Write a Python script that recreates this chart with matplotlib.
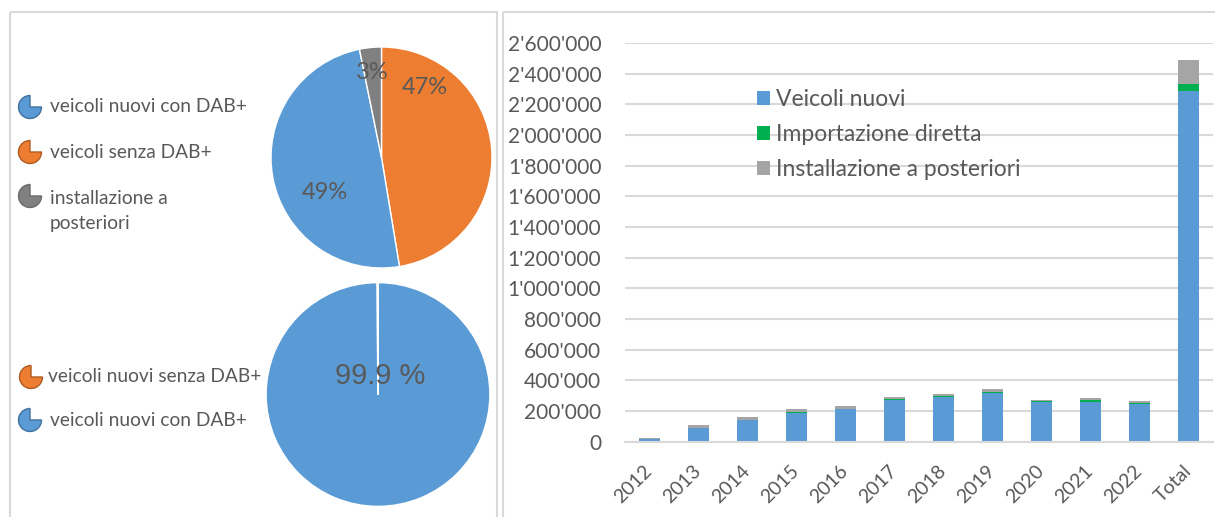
import matplotlib
matplotlib.use('Agg')
import matplotlib.pyplot as plt
import matplotlib.patches as mpatches
import numpy as np

plt.rcParams['font.family'] = ['Lato', 'DejaVu Sans']
TXT = '#595959'
BLUE, ORANGE, GREEN = '#5B9BD5', '#ED7D31', '#00B050'
PIE_GREY, BAR_GREY = '#808080', '#A5A5A5'

# --- data -------------------------------------------------------------
years = ['2012', '2013', '2014', '2015', '2016', '2017', '2018', '2019',
         '2020', '2021', '2022']
nuovi = [15000, 88000, 142000, 189000, 211000, 273000, 291000, 318000,
         258000, 258000, 242000]
importazione = [0, 1000, 1000, 2000, 2000, 4000, 6000, 7000,
                5000, 10000, 10000]
posteriori = [10000, 18000, 17000, 22000, 16000, 12000, 10000, 15000,
              10000, 15000, 10000]
bar_labels = ['Veicoli nuovi', 'Importazione diretta', 'Installazione a posteriori']

pie1_labels = ['veicoli nuovi con DAB+', 'veicoli senza DAB+', 'installazione a\nposteriori']
pie1_values = [49.4, 47.4, 3.2]
pie2_labels = ['veicoli nuovi senza DAB+', 'veicoli nuovi con DAB+']
pie2_values = [0.1, 99.9]

W, H = 1215, 517
fig = plt.figure(figsize=(W / 100, H / 100), dpi=100)

# overlay in pixel coords for panel frames + pie legend icons (y inverted)
ov = fig.add_axes([0, 0, 1, 1])
ov.set_xlim(0, W)
ov.set_ylim(H, 0)
ov.axis('off')
for x0, w in [(10, 487), (503, 730)]:
    ov.add_patch(mpatches.Rectangle((x0, 12), w, 530, fill=False,
                                    edgecolor='#d9d9d9', lw=1.5))

def pie_key(x, y, color, edge, label, tx=50, ty=None):
    # y axis is inverted, so data angles 0..270 leave the top-right quarter open
    ov.add_patch(mpatches.Wedge((x, y), 11.5, 0, 270, facecolor=color,
                                edgecolor=edge, lw=1))
    ov.text(tx, y if ty is None else ty, label, fontsize=13.8, color=TXT,
            va='center', ha='left', linespacing=1.6)

# --- pie 1 ------------------------------------------------------------
ax1 = fig.add_axes([271 / W, (H - 268) / H, 221 / W, 221 / H])
order1 = [1, 0, 2]
cols1 = [BLUE, ORANGE, PIE_GREY]
_, _, at1 = ax1.pie([pie1_values[i] for i in order1], colors=[cols1[i] for i in order1],
                    startangle=90, counterclock=False, autopct='%.0f%%',
                    wedgeprops=dict(edgecolor='white', linewidth=1),
                    textprops=dict(color=TXT, fontsize=17))
for t, pos in zip(at1, [(0.394, 0.629), (-0.511, -0.321), (-0.086, 0.765)]):
    t.set_position(pos)
ax1.set_xlim(-1, 1)
ax1.set_ylim(-1, 1)

pie_key(30, 107, BLUE, '#41719C', pie1_labels[0])
pie_key(30, 152, ORANGE, '#AE5A21', pie1_labels[1])
pie_key(30, 196, PIE_GREY, '#6B6B6B', pie1_labels[2], ty=211)

# --- pie 2 ------------------------------------------------------------
ax2 = fig.add_axes([266 / W, 10.5 / H, 224 / W, 224 / H])
order2 = [1, 0]
cols2 = [ORANGE, BLUE]
_, _, at2 = ax2.pie([pie2_values[i] for i in order2], colors=[cols2[i] for i in order2],
                    startangle=90, counterclock=False,
                    autopct=lambda p: f'{p:.1f} %' if p > 50 else '',
                    wedgeprops=dict(edgecolor='white', linewidth=1.2),
                    textprops=dict(color=TXT, fontsize=21, family='Liberation Sans'))
at2[0].set_position((0.018, 0.165))
ax2.set_xlim(-1, 1)
ax2.set_ylim(-1, 1)

pie_key(31, 377, ORANGE, '#AE5A21', pie2_labels[0], tx=48)
pie_key(30, 420, BLUE, '#41719C', pie2_labels[1])

# --- stacked bars -----------------------------------------------------
cats = years + ['Total']
s1 = np.array(nuovi + [sum(nuovi)])
s2 = np.array(importazione + [sum(importazione)])
s3 = np.array(posteriori + [sum(posteriori)])
x = np.arange(len(cats))

ax = fig.add_axes([625 / W, (H - 441.5) / H, 588 / W, 398.5 / H])
ax.set_facecolor('none')
bw = 0.41
ax.bar(x, s1, bw, color=BLUE, label=bar_labels[0])
ax.bar(x, s2, bw, bottom=s1, color=GREEN, label=bar_labels[1])
ax.bar(x, s3, bw, bottom=s1 + s2, color=BAR_GREY, label=bar_labels[2])

ax.set_ylim(0, 2600000)
ax.set_xlim(-0.5, len(cats) - 0.5)
ax.set_yticks(np.arange(0, 2600001, 200000))
ax.set_yticklabels([f'{int(v):,}'.replace(',', "'") for v in ax.get_yticks()])
ax.set_xticks(x)
ax.set_xticklabels(cats, rotation=45, ha='right', va='center', rotation_mode='anchor')
ax.tick_params(axis='y', length=0, pad=17, labelsize=15, labelcolor=TXT)
ax.tick_params(axis='x', length=0, pad=19, labelsize=14, labelcolor=TXT)
ax.yaxis.grid(True, color='#d9d9d9', lw=1.5)
ax.set_axisbelow(True)
for s in ['left', 'right', 'top']:
    ax.spines[s].set_visible(False)
ax.spines['bottom'].set_color('#d9d9d9')
ax.spines['bottom'].set_linewidth(1.5)

ax.legend(loc='upper left', bbox_to_anchor=(757 / W, 1 - 89 / H),
          bbox_transform=fig.transFigure, frameon=False, fontsize=16.5,
          labelcolor=TXT, handlelength=0.55, handleheight=0.55,
          handletextpad=0.3, labelspacing=0.62, borderpad=0, borderaxespad=0)

fig.savefig('out.png', dpi=100)
